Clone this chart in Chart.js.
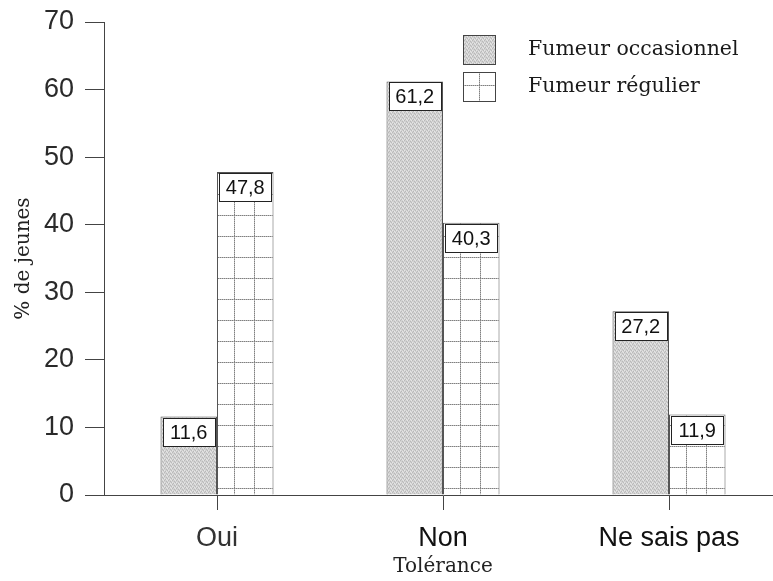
<!DOCTYPE html>
<html>
<head>
<meta charset="utf-8">
<script src="https://cdn.jsdelivr.net/npm/chart.js@4.4.1/dist/chart.umd.min.js"></script>
<style>
    html, body { margin: 0; padding: 0; background: #fff; overflow: hidden; }
</style>
</head>
<body>
<canvas id="toleranceChart" width="782" height="581"></canvas>
<script>
// data
const categories = ['Oui', 'Non', 'Ne sais pas'];
const seriesLabels = ['Fumeur occasionnel', 'Fumeur régulier'];
const occasionnelValues = [11.6, 61.2, 27.2];
const regulierValues = [47.8, 40.3, 11.9];
const yTickValues = [0, 10, 20, 30, 40, 50, 60, 70];

const SANS = '"Liberation Sans", Arial, sans-serif';
const SERIF = '"DejaVu Serif", serif';


// gray stipple tile (occasionnel)
function makeStippleTile() {
    const c = document.createElement('canvas');
    c.width = 4;
    c.height = 4;
    const g = c.getContext('2d');
    g.fillStyle = '#d2d2d2';
    g.fillRect(0, 0, 4, 4);
    g.fillStyle = '#b9b9b9';
    [[0, 0], [2, 1], [1, 3], [3, 2]].forEach(function(p) { g.fillRect(p[0], p[1], 1, 1); });
    g.fillStyle = '#e6e6e6';
    [[2, 3], [0, 2], [3, 0]].forEach(function(p) { g.fillRect(p[0], p[1], 1, 1); });
    return c;
}

// white cell grid tile (régulier)
function makeGridTile() {
    const c = document.createElement('canvas');
    c.width = 20;
    c.height = 21;
    const g = c.getContext('2d');
    g.fillStyle = '#ffffff';
    g.fillRect(0, 0, 20, 21);
    for (let x = 0; x < 20; x++) {
        g.fillStyle = x % 2 ? '#bbbbbb' : '#808080';
        g.fillRect(x, 0, 1, 1);
    }
    for (let y = 0; y < 21; y++) {
        g.fillStyle = y % 2 ? '#bbbbbb' : '#808080';
        g.fillRect(0, y, 1, 1);
    }
    return c;
}

const stippleTile = makeStippleTile();
const gridTile = makeGridTile();


// grid pattern aligned on each bar
function regulierFill(ctx) {
    const chart = ctx.chart;
    const pat = chart.ctx.createPattern(gridTile, 'repeat');
    const xs = chart.scales.x;
    const ys = chart.scales.y;
    if (ctx.type === 'data' && xs && ys) {
        const left = xs.getPixelForValue(ctx.dataIndex);
        pat.setTransform(new DOMMatrix().translate(Math.round(left) + 17, Math.round(ys.getPixelForValue(0)) - 7));
    }
    return pat;
}

function occasionnelFill(ctx) {
    return ctx.chart.ctx.createPattern(stippleTile, 'repeat');
}


// value boxes on top of bars
const valueBoxPlugin = {
    id: 'valueBox',
    afterDatasetsDraw(chart) {
        const g = chart.ctx;
        chart.data.datasets.forEach(function(ds, di) {
            chart.getDatasetMeta(di).data.forEach(function(bar, i) {
                const left = Math.round(bar.x - bar.width / 2) + 2;
                const w = Math.round(bar.width) - 4;
                const top = Math.round(bar.y) + 1;
                const h = 29;
                g.save();
                g.fillStyle = '#ffffff';
                g.fillRect(left, top, w, h);
                g.strokeStyle = '#222222';
                g.lineWidth = 1;
                g.strokeRect(left + 0.5, top + 0.5, w - 1, h - 1);
                g.fillStyle = '#111111';
                g.font = '20px ' + SANS;
                g.textAlign = 'center';
                g.textBaseline = 'middle';
                g.fillText(String(ds.data[i]).replace('.', ','), bar.x, top + h / 2 + 1);
                g.restore();
            });
        });
    }
};


// legend in the top right corner
const boxLegendPlugin = {
    id: 'boxLegend',
    afterDraw(chart) {
        const g = chart.ctx;
        const boxX = 463;
        const boxW = 33;
        const boxH = 30;
        const rows = [35, 72];

        chart.data.datasets.forEach(function(ds, di) {
            const y = rows[di];
            g.save();
            if (di === 0) {
                g.fillStyle = g.createPattern(stippleTile, 'repeat');
            } else {
                const pat = g.createPattern(gridTile, 'repeat');
                pat.setTransform(new DOMMatrix().translate(479, 85));
                g.fillStyle = pat;
            }
            g.fillRect(boxX, y, boxW, boxH);
            g.strokeStyle = '#444444';
            g.lineWidth = 1;
            g.strokeRect(boxX + 0.5, y + 0.5, boxW - 1, boxH - 1);

            g.fillStyle = '#1a1a1a';
            g.font = '20.5px ' + SERIF;
            g.textAlign = 'left';
            g.textBaseline = 'middle';
            g.fillText(ds.label, 528, y + boxH / 2);
            g.restore();
        });
    }
};


new Chart(document.getElementById('toleranceChart').getContext('2d'), {
    type: 'bar',
    data: {
        labels: categories,
        datasets: [
            {
                label: seriesLabels[0],
                data: occasionnelValues,
                backgroundColor: occasionnelFill,
                borderColor: '#555555',
                borderWidth: 1,
                categoryPercentage: 0.5,
                barPercentage: 1.0
            },
            {
                label: seriesLabels[1],
                data: regulierValues,
                backgroundColor: regulierFill,
                borderColor: '#555555',
                borderWidth: 1,
                categoryPercentage: 0.5,
                barPercentage: 1.0
            }
        ]
    },
    options: {
        responsive: false,
        animation: false,
        layout: {
            padding: { top: 22, right: 0, bottom: 0, left: 0 }
        },
        plugins: {
            legend: { display: false },
            tooltip: { enabled: false }
        },
        scales: {
            x: {
                offset: true,
                grid: {
                    offset: false,
                    drawOnChartArea: false,
                    tickLength: 15,
                    color: '#444444'
                },
                border: { color: '#444444' },
                ticks: {
                    color: function(ctx) {
                        return ctx.index === 0 ? '#333333' : '#111111';
                    },
                    padding: 12,
                    font: { family: SANS, size: 27 }
                },
                title: {
                    display: true,
                    text: 'Tolérance',
                    color: '#222222',
                    font: { family: SERIF, size: 20 },
                    padding: { top: 0, bottom: 2 }
                },
                afterFit(scale) {
                    scale.height = 86;
                }
            },
            y: {
                min: 0,
                max: 70,
                afterBuildTicks(scale) {
                    scale.ticks = yTickValues.map(function(v) { return { value: v }; });
                },
                grid: {
                    drawOnChartArea: false,
                    tickLength: 19,
                    color: '#444444'
                },
                border: { color: '#444444' },
                ticks: {
                    color: '#2a2a2a',
                    padding: 11,
                    font: { family: SANS, size: 27 }
                },
                title: {
                    display: true,
                    text: '% de jeunes',
                    color: '#222222',
                    font: { family: SERIF, size: 20 },
                    padding: { top: 12, bottom: 0 }
                },
                afterFit(scale) {
                    scale.width = 104;
                    scale.paddingTop = 0;
                    scale.paddingBottom = 0;
                }
            }
        }
    },
    plugins: [valueBoxPlugin, boxLegendPlugin]
});
</script>
</body>
</html>
